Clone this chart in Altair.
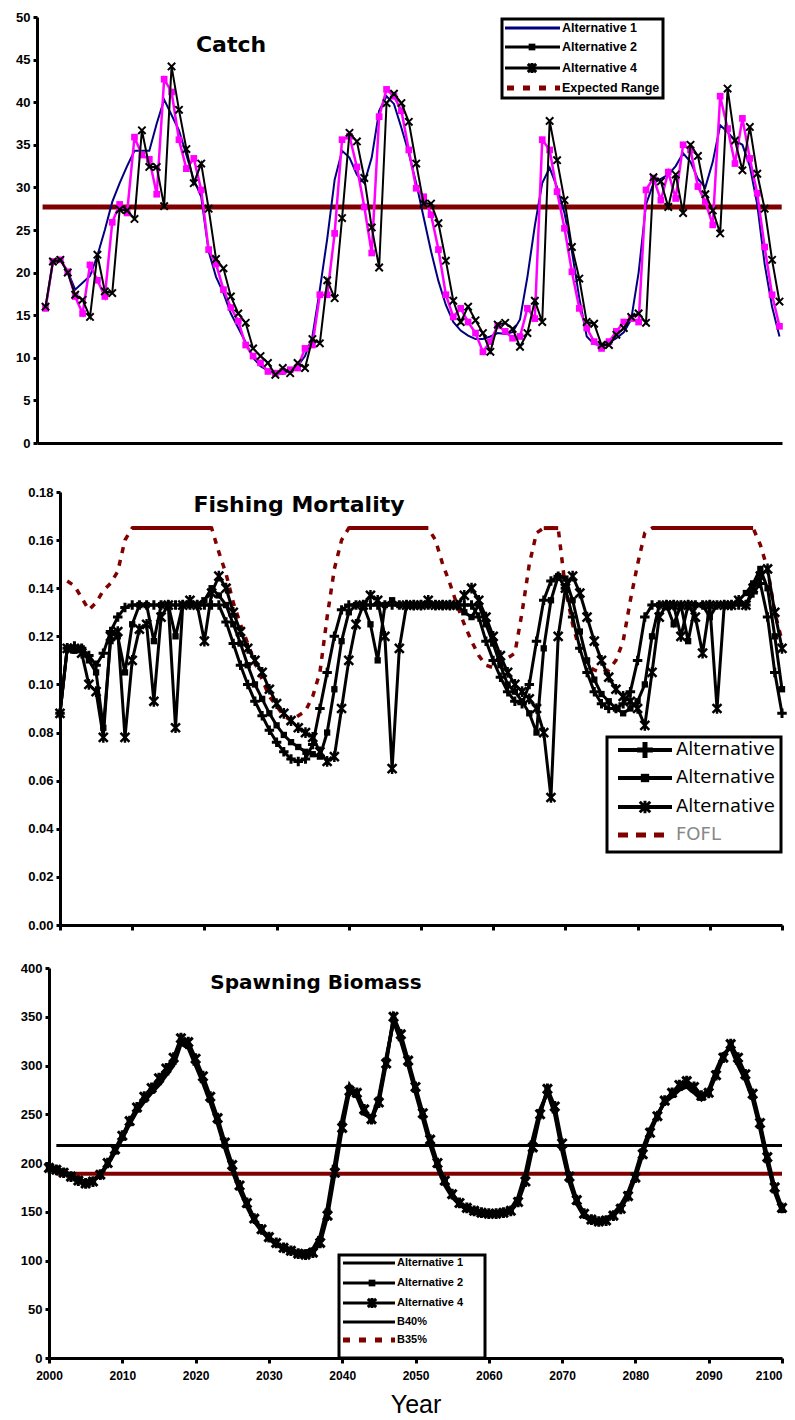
import altair as alt
import pandas as pd

FONT = "Liberation Sans"

# ---------------- Catch (2000-2099) ----------------
catch_years = list(range(2000, 2100))
catch_alt1 = [15.8, 21.3, 21.5, 20.1, 18.0, 18.8, 19.6, 22.0, 25.0, 28.3,
              30.5, 32.5, 34.3, 34.3, 34.3, 37.5, 40.3, 38.5, 36.7, 33.8,
              30.9, 28.9, 22.5, 19.5, 17.6, 15.2, 13.5, 11.8, 10.0, 9.0,
              8.5, 8.2, 8.1, 8.5, 9.0, 10.2, 12.5, 18.0, 24.0, 30.9,
              34.3, 33.5, 31.5, 30.5, 33.5, 39.0, 40.7, 39.8, 37.0, 34.0,
              30.5, 26.5, 22.5, 19.0, 16.2, 14.2, 13.2, 12.6, 12.2, 12.2,
              12.5, 12.9, 12.8, 13.0, 14.5, 19.5, 25.5, 30.5, 32.3, 30.0,
              27.0, 22.5, 17.0, 12.5, 11.6, 11.5, 11.8, 12.3, 13.0, 14.5,
              20.0, 28.0, 30.5, 31.0, 31.5, 32.5, 34.0, 33.0, 31.0, 30.0,
              33.0, 37.3, 36.5, 35.5, 35.0, 32.5, 28.0, 21.0, 16.0, 12.5]
catch_alt2 = [15.8, 21.3, 21.5, 20.1, 17.2, 15.2, 20.9, 19.1, 17.2, 25.9,
              28.0, 27.0, 35.9, 33.8, 33.3, 29.2, 42.7, 41.2, 35.6, 32.2,
              33.4, 29.7, 22.7, 21.0, 18.0, 15.9, 14.3, 11.5, 10.2, 9.4,
              8.4, 8.2, 8.4, 8.6, 8.8, 11.1, 11.5, 17.4, 17.4, 24.6,
              35.6, 36.0, 32.4, 27.7, 22.3, 38.3, 41.5, 40.7, 39.0, 34.4,
              29.9, 28.9, 26.8, 22.7, 17.4, 14.8, 15.8, 14.2, 12.9, 10.7,
              11.9, 13.8, 13.1, 12.3, 12.5, 15.8, 14.6, 35.6, 34.4, 29.5,
              25.2, 20.1, 15.8, 13.5, 11.9, 11.1, 11.9, 13.1, 14.2, 14.6,
              14.2, 29.7, 31.1, 28.5, 31.8, 28.7, 35.0, 34.4, 30.1, 28.3,
              25.6, 40.7, 36.9, 32.8, 38.1, 33.4, 29.3, 23.0, 17.4, 13.7]
catch_alt4 = [16.0, 21.3, 21.5, 20.0, 17.4, 16.8, 14.8, 22.1, 17.8, 17.6,
              27.4, 27.3, 26.3, 36.7, 32.4, 32.4, 27.8, 44.2, 39.1, 34.5,
              30.5, 32.8, 27.5, 21.6, 20.5, 17.2, 15.2, 14.1, 11.1, 10.2,
              9.4, 8.0, 8.8, 8.2, 9.4, 8.8, 12.2, 11.7, 19.1, 17.0,
              26.4, 36.4, 35.4, 31.1, 25.3, 20.6, 39.9, 41.0, 39.9, 37.7,
              32.8, 28.1, 28.1, 25.8, 21.4, 16.7, 14.2, 16.0, 14.4, 12.9,
              10.7, 13.9, 14.1, 13.4, 11.3, 12.9, 16.7, 14.2, 37.8, 33.2,
              28.5, 23.0, 19.3, 14.2, 14.0, 11.5, 11.5, 12.7, 13.5, 14.8,
              15.2, 14.1, 31.2, 30.7, 27.7, 31.5, 27.0, 35.0, 33.7, 29.2,
              27.3, 24.6, 41.6, 35.5, 32.0, 37.1, 31.6, 27.5, 21.5, 16.6]
catch_ref_years = [1999.6, 2099.3]
catch_ref = [27.7, 27.7]

# ---------------- Fishing mortality (2000-2100) ----------------
f_years = list(range(2000, 2101))
f_alt1 = [.088, .115, .116, .115, .112, .108, .113, .122, .128, .132,
          .133, .133, .133, .133, .133, .133, .133, .133, .133, .133,
          .133, .133, .133, .126, .117, .108, .100, .093, .087, .081,
          .076, .072, .069, .068, .069, .075, .090, .105, .120, .131,
          .133, .133, .133, .133, .133, .133, .133, .133, .133, .133,
          .133, .133, .133, .133, .133, .133, .133, .133, .128, .118,
          .110, .103, .097, .093, .092, .100, .118, .135, .143, .145,
          .140, .128, .115, .105, .097, .092, .090, .090, .092, .097,
          .110, .128, .133, .133, .133, .133, .133, .133, .133, .133,
          .133, .133, .133, .133, .133, .133, .138, .142, .128, .105, .088]
f_alt2 = [.088, .115, .114, .115, .110, .105, .082, .118, .120, .105,
          .125, .133, .133, .118, .133, .133, .120, .133, .133, .133,
          .135, .140, .137, .133, .125, .117, .108, .100, .094, .088,
          .083, .079, .076, .074, .072, .071, .070, .080, .098, .118,
          .130, .133, .133, .125, .110, .133, .135, .133, .133, .133,
          .133, .133, .133, .133, .133, .133, .130, .128, .133, .125,
          .117, .108, .100, .097, .093, .088, .080, .115, .135, .145,
          .144, .135, .122, .110, .102, .096, .093, .090, .088, .090,
          .093, .100, .120, .133, .133, .125, .133, .118, .133, .133,
          .128, .133, .133, .133, .135, .138, .142, .148, .140, .120, .098]
f_alt4 = [.088, .115, .115, .113, .100, .097, .078, .120, .122, .078,
          .110, .123, .125, .093, .128, .133, .082, .133, .135, .133,
          .118, .138, .145, .140, .130, .122, .115, .110, .105, .098,
          .092, .088, .085, .082, .080, .078, .072, .068, .070, .090,
          .110, .125, .133, .137, .135, .120, .065, .115, .133, .133,
          .133, .135, .133, .133, .133, .133, .137, .140, .135, .128,
          .120, .112, .105, .100, .097, .094, .090, .080, .053, .120,
          .140, .145, .138, .128, .118, .110, .103, .098, .095, .093,
          .090, .083, .105, .128, .133, .133, .120, .133, .128, .113,
          .133, .090, .133, .133, .135, .133, .140, .145, .148, .130, .115]
fofl_years = list(range(2001, 2101))
fofl = [.143, .141, .136, .131, .134, .139, .142, .147, .160, .165,
        .165, .165, .165, .165, .165, .165, .165, .165, .165, .165,
        .165, .155, .146, .134, .125, .117, .109, .102, .095, .091,
        .087, .085, .087, .089, .095, .105, .128, .148, .160, .165,
        .165, .165, .165, .165, .165, .165, .165, .165, .165, .165,
        .165, .160, .150, .142, .133, .125, .118, .112, .108, .107,
        .109, .111, .113, .130, .150, .163, .165, .165, .165, .140,
        .125, .114, .108, .106, .105, .106, .110, .118, .135, .150,
        .163, .165, .165, .165, .165, .165, .165, .165, .165, .165,
        .165, .165, .165, .165, .165, .165, .158, .148, .130, .118]

# ---------------- Spawning biomass (2000-2100) ----------------
b_years = list(range(2000, 2101))
b_alt1 = [195, 194, 192, 188, 184, 181, 182, 188, 198, 211,
          225, 240, 253, 263, 272, 280, 290, 300, 322, 318,
          300, 282, 262, 240, 215, 192, 172, 155, 140, 130,
          122, 116, 112, 109, 108, 109, 112, 125, 155, 200,
          245, 280, 268, 250, 246, 268, 308, 345, 325, 300,
          272, 245, 218, 195, 177, 165, 157, 152, 149, 147,
          147, 148, 150, 153, 165, 190, 225, 255, 272, 250,
          212, 180, 158, 145, 140, 140, 143, 148, 157, 170,
          190, 215, 235, 250, 262, 268, 275, 278, 272, 265,
          275, 295, 312, 318, 300, 285, 265, 235, 200, 170, 150]
b_alt2 = [195, 194, 191, 187, 183, 180, 182, 189, 199, 212,
          226, 241, 255, 265, 274, 283, 293, 304, 325, 320,
          303, 285, 265, 243, 218, 195, 175, 157, 142, 131,
          123, 117, 113, 110, 108, 108, 110, 122, 150, 195,
          240, 277, 270, 252, 244, 265, 305, 347, 328, 302,
          275, 248, 221, 198, 180, 167, 158, 153, 150, 148,
          148, 148, 150, 152, 162, 185, 220, 252, 274, 254,
          216, 183, 160, 147, 141, 140, 142, 147, 155, 168,
          187, 212, 233, 249, 263, 270, 277, 281, 275, 267,
          273, 292, 310, 320, 304, 288, 268, 238, 203, 172, 152]
b_alt4 = [195, 193, 190, 186, 182, 179, 181, 188, 200, 214,
          228, 243, 257, 268, 277, 287, 297, 308, 328, 324,
          307, 289, 268, 246, 221, 198, 177, 159, 143, 132,
          124, 118, 113, 110, 107, 106, 108, 118, 146, 190,
          236, 274, 272, 255, 245, 262, 302, 350, 332, 305,
          278, 251, 224, 200, 182, 168, 159, 154, 151, 149,
          148, 148, 149, 151, 160, 181, 216, 250, 276, 258,
          220, 186, 162, 148, 142, 140, 141, 146, 153, 166,
          185, 209, 231, 248, 264, 272, 280, 284, 278, 269,
          272, 290, 308, 322, 308, 291, 271, 241, 206, 175, 154]
b_ref_years = [2001, 2100]
b40 = [218, 218]
b35 = [189, 189]

x_ticks = list(range(2000, 2101, 10))

# ---------------- helpers ----------------
XPATH = "M-1,-1L1,1M-1,1L1,-1"
STAR = "M-1,-1L1,1M-1,1L1,-1M0,-1.2L0,1.2"
PLUS = "M0,-1L0,1M-1,0L1,0"
one = pd.DataFrame({"k": [0]})


def sdf(years, vals):
    return pd.DataFrame({"year": years, "value": vals})


def yaxis(values, fmt, offset):
    return alt.Axis(values=values, format=fmt, title=None, grid=False,
                    domainColor="black", domainWidth=3, tickColor="black",
                    tickWidth=3, tickSize=4, labelFont=FONT, labelFontSize=13,
                    labelFontWeight="bold", labelColor="black", labelPadding=3,
                    offset=offset)


def txt(s, x, y, size=12, weight="bold", align="left", color="black", font=FONT):
    return alt.Chart(one).mark_text(
        text=s, align=align, baseline="middle", fontSize=size,
        fontWeight=weight, font=font, color=color).encode(x=alt.value(x), y=alt.value(y))


def hseg(x1, x2, y, color="black", width=3, dash=None):
    kw = dict(color=color, strokeWidth=width)
    if dash:
        kw["strokeDash"] = dash
    return alt.Chart(one).mark_rule(**kw).encode(
        x=alt.value(x1), x2=alt.value(x2), y=alt.value(y))


def box(x1, x2, y1, y2):
    return alt.Chart(one).mark_rect(fill="white", stroke="black", strokeWidth=3).encode(
        x=alt.value(x1), x2=alt.value(x2), y=alt.value(y1), y2=alt.value(y2))


def sym(x, y, shape, size, color="black", filled=False, sw=2):
    if filled:
        m = alt.Chart(one).mark_point(shape=shape, size=size, filled=True,
                                      fill=color, opacity=1, strokeWidth=0)
    else:
        m = alt.Chart(one).mark_point(shape=shape, size=size, filled=False,
                                      stroke=color, strokeWidth=sw, opacity=1)
    return m.encode(x=alt.value(x), y=alt.value(y))


def line(df, X, Y, color, width, dash=None):
    kw = dict(color=color, strokeWidth=width)
    if dash:
        kw["strokeDash"] = dash
    return alt.Chart(df).mark_line(**kw).encode(X, Y)


def pts(df, X, Y, shape, size, color, filled=False, sw=2):
    if filled:
        m = alt.Chart(df).mark_point(shape=shape, size=size, filled=True,
                                     fill=color, opacity=1, strokeWidth=0)
    else:
        m = alt.Chart(df).mark_point(shape=shape, size=size, filled=False,
                                     stroke=color, strokeWidth=sw, opacity=1)
    return m.encode(X, Y)


W = 745
XR = 745  # right end of the 2000-2100 scale in panels 2 and 3

# ---------------- Panel 1 : Catch ----------------
H1 = 443
X1 = alt.X("year:Q", title=None,
           scale=alt.Scale(domain=[1998.85, 2099.34], nice=False, zero=False),
           axis=alt.Axis(labels=False, ticks=False, grid=False, title=None,
                         domainColor="black", domainWidth=3))
Y1 = alt.Y("value:Q", title=None,
           scale=alt.Scale(domain=[0, 50], range=[443, 17], nice=False),
           axis=yaxis(list(range(0, 51, 5)), "d", 0))

c1 = sdf(catch_years, catch_alt1)
c2 = sdf(catch_years, catch_alt2)
c4 = sdf(catch_years, catch_alt4)
cref = sdf(catch_ref_years, catch_ref)

p1 = alt.layer(
    line(cref, X1, Y1, "#800000", 5),
    line(c1, X1, Y1, "#000080", 2),
    line(c2, X1, Y1, "#FF00FF", 2.5),
    pts(c2, X1, Y1, "square", 45, "#FF00FF", filled=True),
    line(c4, X1, Y1, "black", 2),
    pts(c4, X1, Y1, XPATH, 55, "black", sw=2),
    txt("Catch", 194, 45, size=22, align="center", font="DejaVu Sans"),
    box(465, 626, 19, 98),
    hseg(468, 523, 28, "#000080", 3),
    txt("Alternative 1", 525, 28, size=12.5),
    hseg(468, 523, 47, "black", 3),
    sym(495, 47, "square", 45, filled=True),
    txt("Alternative 2", 525, 47, size=12.5),
    hseg(468, 523, 68, "black", 3),
    sym(495, 68, STAR, 70, sw=3),
    txt("Alternative 4", 525, 68, size=12.5),
    hseg(470, 523, 88, "#800000", 5, dash=[7, 9]),
    txt("Expected Range", 525, 88, size=12.5),
).properties(width=W, height=H1)

# ---------------- Panel 2 : Fishing mortality ----------------
H2 = 456
X2 = alt.X("year:Q", title=None,
           scale=alt.Scale(domain=[2000, 2100], range=[23, XR], nice=False, zero=False),
           axis=alt.Axis(values=x_ticks, labels=False, grid=False, title=None,
                         domainColor="black", domainWidth=3, tickColor="black",
                         tickWidth=3, tickSize=5))
Y2 = alt.Y("value:Q", title=None,
           scale=alt.Scale(domain=[0, 0.18], range=[456, 23], nice=False),
           axis=yaxis([round(0.02 * i, 2) for i in range(10)], ".2f", -23))

f1 = sdf(f_years, f_alt1)
f2 = sdf(f_years, f_alt2)
f4 = sdf(f_years, f_alt4)
fo = sdf(fofl_years, fofl)
fo["cap"] = fo["value"] >= 0.1649
fo["seg"] = (fo["cap"] != fo["cap"].shift()).cumsum()
fo_cap = fo[fo["cap"]].copy()

LX = 570  # legend box left in panel 2
p2 = alt.layer(
    line(fo, X2, Y2, "#800000", 3.5, dash=[6, 7]),
    alt.Chart(fo_cap).mark_line(color="#800000", strokeWidth=4).encode(X2, Y2, detail="seg:N"),
    line(f1, X2, Y2, "black", 3),
    pts(f1, X2, Y2, PLUS, 90, "black", sw=3),
    line(f2, X2, Y2, "black", 3),
    pts(f2, X2, Y2, "square", 40, "black", filled=True),
    line(f4, X2, Y2, "black", 3),
    pts(f4, X2, Y2, STAR, 80, "black", sw=2.5),
    txt("Fishing Mortality", 262, 36, size=22, align="center", font="DejaVu Sans"),
    box(LX, 744, 268, 383),
    hseg(LX + 11, LX + 65, 281, "black", 4),
    sym(LX + 38, 281, PLUS, 250, sw=5),
    txt("Alternative", LX + 69, 281, size=18, weight="normal", font="DejaVu Sans"),
    hseg(LX + 11, LX + 65, 309, "black", 4),
    sym(LX + 38, 309, "square", 70, filled=True),
    txt("Alternative", LX + 69, 309, size=18, weight="normal", font="DejaVu Sans"),
    hseg(LX + 11, LX + 65, 338, "black", 4),
    sym(LX + 38, 338, STAR, 110, sw=3),
    txt("Alternative", LX + 69, 338, size=18, weight="normal", font="DejaVu Sans"),
    hseg(LX + 11, LX + 65, 366, "#800000", 5, dash=[10, 8]),
    txt("FOFL", LX + 69, 366, size=18, weight="normal", font="DejaVu Sans", color="#888888"),
).properties(width=W, height=H2)

# ---------------- Panel 3 : Spawning biomass ----------------
H3 = 407
X3 = alt.X("year:Q", title="Year",
           scale=alt.Scale(domain=[2000, 2100], range=[12, XR], nice=False, zero=False),
           axis=alt.Axis(values=x_ticks, format="d", grid=False, title="Year",
                         domainColor="black", domainWidth=3, tickColor="black",
                         tickWidth=3, tickSize=5, labelFont=FONT, labelFontSize=12,
                         labelFontWeight="bold", labelColor="black", labelPadding=7,
                         labelFlush=False,
                         labelAlign={"condition": {"test": "datum.value >= 2100", "value": "right"},
                                     "value": "center"},
                         titleFont=FONT, titleFontSize=25, titleFontWeight="normal",
                         titleColor="black", titlePadding=11))
Y3 = alt.Y("value:Q", title=None,
           scale=alt.Scale(domain=[0, 400], range=[407, 17], nice=False),
           axis=yaxis(list(range(0, 401, 50)), "d", -12))

bb1 = sdf(b_years, b_alt1)
bb2 = sdf(b_years, b_alt2)
bb4 = sdf(b_years, b_alt4)
r40 = sdf(b_ref_years, b40)
r35 = sdf(b_ref_years, b35)

p3 = alt.layer(
    line(r40, X3, Y3, "black", 3),
    line(r35, X3, Y3, "#800000", 4),
    line(bb1, X3, Y3, "black", 3.5),
    line(bb2, X3, Y3, "black", 3.5),
    pts(bb2, X3, Y3, "square", 40, "black", filled=True),
    line(bb4, X3, Y3, "black", 3.5),
    pts(bb4, X3, Y3, STAR, 80, "black", sw=3),
    txt("Spawning Biomass", 279, 32, size=20, align="center", font="DejaVu Sans"),
    box(302, 448, 304, 407),
    hseg(306, 358, 312, "black", 3),
    txt("Alternative 1", 360, 312, size=11),
    hseg(306, 358, 332, "black", 3),
    sym(335, 332, "square", 45, filled=True),
    txt("Alternative 2", 360, 332, size=11),
    hseg(306, 358, 352, "black", 3),
    sym(335, 352, STAR, 70, sw=3),
    txt("Alternative 4", 360, 352, size=11),
    hseg(306, 358, 371, "black", 3),
    txt("B40%", 360, 371, size=11),
    hseg(306, 358, 389, "#800000", 5, dash=[7, 9]),
    txt("B35%", 360, 389, size=11),
).properties(width=W, height=H3)

chart = alt.vconcat(p1, p2, p3, spacing=19).properties(
    padding={"left": 15, "top": 0, "right": 0, "bottom": 0},
    background="white",
).configure_view(stroke=None)

chart.save("out.html", embed_options={"renderer": "svg", "actions": False})
